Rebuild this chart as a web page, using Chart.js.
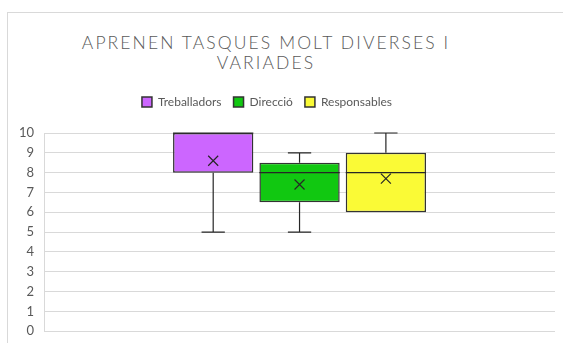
<!DOCTYPE html>
<html>
<head>
<meta charset="utf-8">
<script src="https://cdn.jsdelivr.net/npm/chart.js@4.4.0/dist/chart.umd.min.js"></script>
<style>
  html, body { margin: 0; padding: 0; background: #fff; }
  #wrap { position: relative; width: 563px; height: 343px; overflow: hidden; }
  #frame { position: absolute; left: 7px; top: 12px; width: 600px; height: 400px; border: 1px solid #d9d9d9; box-sizing: border-box; }
  #title { position: absolute; left: 16px; width: 500px; top: 33px; text-align: center; white-space: nowrap;
           font-family: Lato, "Open Sans", sans-serif; font-weight: 300; font-size: 17.5px; line-height: 20px;
           letter-spacing: 2.1px; color: #595959; }
  canvas { position: absolute; left: 0; top: 0; }
</style>
</head>
<body>
<div id="wrap">
  <div id="frame"></div>
  <div id="title">APRENEN TASQUES MOLT DIVERSES I<br>VARIADES</div>
  <canvas id="boxChart" width="563" height="349"></canvas>
</div>
<script>
// Dades del diagrama de caixa
const categories = [''];
const seriesNames = ['Treballadors', 'Direcció', 'Responsables'];
const seriesColors = ['#CC66FF', '#11C811', '#FAFA36'];
const minVals = [5, 5, 6];
const q1Vals = [8, 6.5, 6];
const medianVals = [10, 8, 8];
const q3Vals = [10, 8.5, 9];
const maxVals = [10, 9, 10];
const meanVals = [8.6, 7.4, 7.7];
const yTicks = [0, 1, 2, 3, 4, 5, 6, 7, 8, 9, 10];

document.addEventListener("DOMContentLoaded", function() {
    let ctx = document.getElementById('boxChart').getContext('2d');

    // Bigotis, mediana i mitjana dibuixats amb les escales del gràfic
    const boxExtras = {
        id: 'boxExtras',
        afterDatasetsDraw(chart) {
            let c = chart.ctx;
            let y = chart.scales.y;
            c.save();
            c.strokeStyle = '#262626';
            c.lineWidth = 1.2;
            chart.data.datasets.forEach((ds, i) => {
                let bar = chart.getDatasetMeta(i).data[0];
                if (!bar) return;
                let x = bar.x;
                let half = bar.width / 2;
                let cap = bar.width * 0.145;
                let pMin = y.getPixelForValue(minVals[i]);
                let pQ1 = y.getPixelForValue(q1Vals[i]);
                let pMed = y.getPixelForValue(medianVals[i]);
                let pQ3 = y.getPixelForValue(q3Vals[i]);
                let pMax = y.getPixelForValue(maxVals[i]);
                let pMean = y.getPixelForValue(meanVals[i]);
                c.beginPath();
                // bigoti superior
                if (maxVals[i] > q3Vals[i]) {
                    c.moveTo(x, pQ3); c.lineTo(x, pMax);
                    c.moveTo(x - cap, pMax); c.lineTo(x + cap, pMax);
                }
                // bigoti inferior
                if (minVals[i] < q1Vals[i]) {
                    c.moveTo(x, pQ1); c.lineTo(x, pMin);
                    c.moveTo(x - cap, pMin); c.lineTo(x + cap, pMin);
                }
                // mediana
                c.moveTo(x - half, pMed); c.lineTo(x + half, pMed);
                c.stroke();
                // mitjana (creu)
                let s = 5;
                c.beginPath();
                c.moveTo(x - s, pMean - s); c.lineTo(x + s, pMean + s);
                c.moveTo(x + s, pMean - s); c.lineTo(x - s, pMean + s);
                c.stroke();
            });
            c.restore();
        }
    };

    // Més espai sota la llegenda i llegenda una mica cap a l'esquerra
    const legendGap = {
        id: 'legendGap',
        beforeInit(chart) {
            let origFit = chart.legend.fit;
            chart.legend.fit = function() {
                origFit.bind(chart.legend)();
                this.height += 15;
            };
        },
        afterLayout(chart) {
            chart.legend.right -= 30;
        }
    };

    let datasets = seriesNames.map((name, i) => ({
        label: name,
        data: [[q1Vals[i], q3Vals[i]]],
        backgroundColor: seriesColors[i],
        borderColor: '#333333',
        borderWidth: 1.5,
        borderSkipped: false,
        barPercentage: 0.93,
        categoryPercentage: 0.507
    }));

    new Chart(ctx, {
        type: 'bar',
        data: { labels: categories, datasets: datasets },
        options: {
            responsive: false,
            animation: false,
            layout: { padding: { top: 84, left: 9, right: 8, bottom: 5 } },
            plugins: {
                title: { display: false },
                tooltip: { enabled: false },
                legend: {
                    position: 'top',
                    labels: {
                        boxWidth: 10,
                        boxHeight: 10,
                        padding: 12,
                        color: '#595959',
                        font: { family: 'Lato', size: 12 }
                    }
                }
            },
            scales: {
                x: { display: false },
                y: {
                    min: 0,
                    max: 10,
                    afterBuildTicks: axis => { axis.ticks = yTicks.map(v => ({ value: v })); },
                    ticks: { color: '#595959', padding: 10, font: { family: 'Lato', size: 13 } },
                    grid: { color: '#d9d9d9', lineWidth: 1, drawTicks: false },
                    border: { display: true, color: '#d9d9d9' }
                }
            }
        },
        plugins: [boxExtras, legendGap]
    });
});
</script>
</body>
</html>
